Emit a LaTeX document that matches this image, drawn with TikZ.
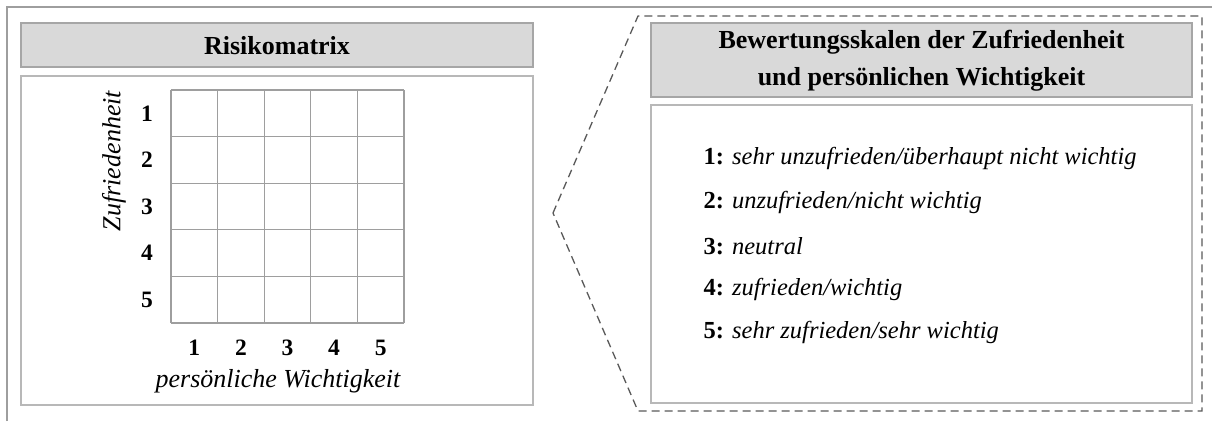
\documentclass[tikz,border=0pt]{standalone}
\usepackage{fontspec}
\setmainfont{Liberation Serif}
\begin{document}
\begin{tikzpicture}[x=1pt,y=-1pt,
  frameline/.style={draw=black!38,line width=1.3pt},
  titlebox/.style={draw=black!35,fill=black!15,line width=1.6pt},
  contentbox/.style={draw=black!28,line width=1.1pt},
  gridline/.style={draw=black!38,line width=1.2pt},
  dashframe/.style={draw=black!65,line width=1.3pt,dash pattern=on 8pt off 5pt},
  titletext/.style={font=\fontsize{26}{37}\selectfont\bfseries,align=center},
  axisnum/.style={font=\fontsize{23.5}{24}\selectfont\bfseries},
  axislabel/.style={font=\fontsize{26}{28}\selectfont\itshape},
  itemtext/.style={font=\fontsize{24.5}{28}\selectfont,anchor=west}]
\useasboundingbox (0,0) rectangle (1212,421);

% outer page frame (top and left edges)
\draw[frameline] (7,421) -- (7,7) -- (1212,7);

% left panel: risk matrix
\path[titlebox] (21,23) rectangle (533,67);
\node[titletext] (lefttitle) at (277,46) {Risikomatrix};
\path[contentbox] (21,76) rectangle (533,405);

% 5x5 grid
\foreach \i in {0,...,5} {
  \draw[gridline] ({171+46.6*\i},90) -- ({171+46.6*\i},323);
  \draw[gridline] (171,{90+46.6*\i}) -- (404,{90+46.6*\i});
}
\foreach \i in {1,...,5} {
  \node[axisnum] (row\i) at (147,{90+46.6*(\i-0.5)}) {\i};
  \node[axisnum] (col\i) at ({171+46.6*(\i-0.5)},348) {\i};
}
\node[axislabel,rotate=90] (ylab) at (114,161) {Zufriedenheit};
\node[axislabel] (xlab) at (278,381) {persönliche Wichtigkeit};

% right panel: dashed pointer frame
\draw[dashframe] (553,213) -- (638,16) -- (1202,16) -- (1202,411) -- (638,411) -- cycle;
\path[titlebox] (651,23) rectangle (1192,97);
\node[titletext] (righttitle) at (921.5,61) {Bewertungsskalen der Zufriedenheit\\und persönlichen Wichtigkeit};
\path[contentbox] (651,105) rectangle (1192,403);

\node[itemtext] (s1) at (700,158) {\textbf{1:} \textit{sehr unzufrieden/überhaupt nicht wichtig}};
\node[itemtext] (s2) at (700,202) {\textbf{2:} \textit{unzufrieden/nicht wichtig}};
\node[itemtext] (s3) at (700,246) {\textbf{3:} \textit{neutral}};
\node[itemtext] (s4) at (700,289) {\textbf{4:} \textit{zufrieden/wichtig}};
\node[itemtext] (s5) at (700,332) {\textbf{5:} \textit{sehr zufrieden/sehr wichtig}};
\end{tikzpicture}
\end{document}
